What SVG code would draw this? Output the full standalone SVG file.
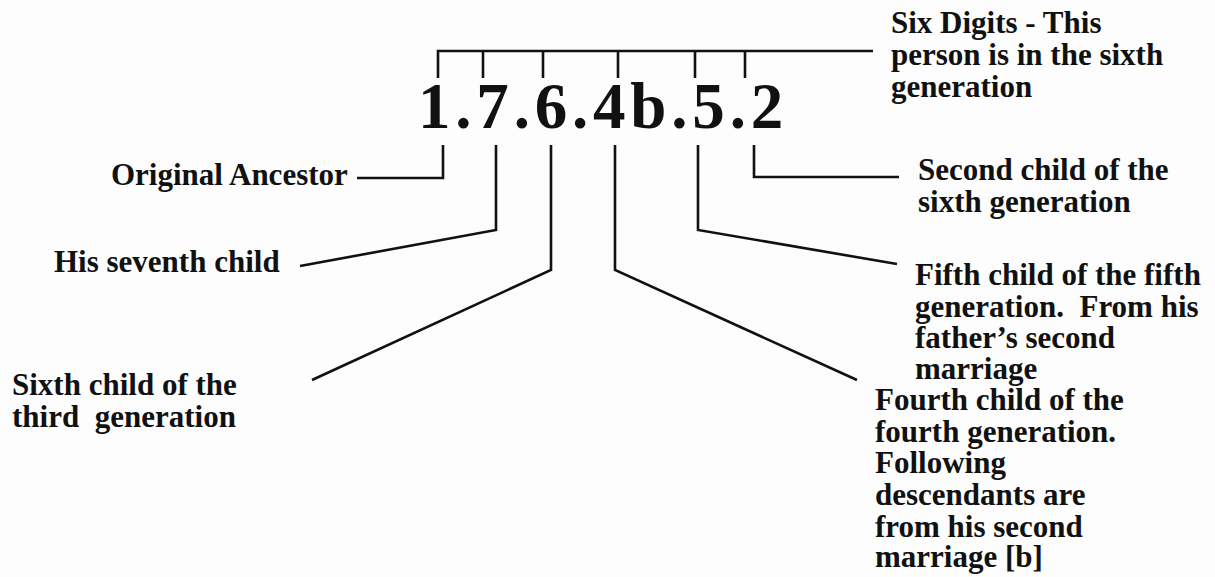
<svg xmlns="http://www.w3.org/2000/svg" width="1215" height="577" viewBox="0 0 1215 577">
<style>
.t{font-family:"Liberation Serif","Times New Roman",serif;font-weight:bold;font-size:31px;fill:#111;white-space:pre}
.num{font-family:"Liberation Serif","Times New Roman",serif;font-weight:bold;font-size:65px;fill:#111;letter-spacing:4.8px}
.c{fill:none;stroke:#111;stroke-width:2.6;stroke-linejoin:miter;stroke-linecap:butt}
</style>
<rect width="1215" height="577" fill="#fdfdfd"/>
<g id="number"><text class="num" x="418" y="128">1.7.6.4b.5.2</text></g>
<g id="connectors">
<path class="c" d="M873,51 H438 V78"/>
<path class="c" d="M483,51 V78"/>
<path class="c" d="M543,51 V78"/>
<path class="c" d="M618,51 V78"/>
<path class="c" d="M695,51 V78"/>
<path class="c" d="M745,51 V78"/>
<path class="c" d="M443,145 V178 H357"/>
<path class="c" d="M496,145 V230 L300,266"/>
<path class="c" d="M551,145 V270 L312,380"/>
<path class="c" d="M615,145 V270 L857,380"/>
<path class="c" d="M698,145 V230 L897,264"/>
<path class="c" d="M754,145 V177 H899"/>
</g>
<g id="six-digits"><text class="t" x="891" y="33">Six Digits - This</text><text class="t" x="891" y="65">person is in the sixth</text><text class="t" x="891" y="97">generation</text></g>
<g id="original-ancestor"><text class="t" x="111" y="185">Original Ancestor</text></g>
<g id="seventh-child"><text class="t" x="54" y="272">His seventh child</text></g>
<g id="sixth-child"><text class="t" x="12" y="395">Sixth child of the</text><text class="t" x="12" y="427">third  generation</text></g>
<g id="second-child"><text class="t" x="918" y="180">Second child of the</text><text class="t" x="918" y="212">sixth generation</text></g>
<g id="fifth-child"><text class="t" x="915" y="285">Fifth child of the fifth</text><text class="t" x="915" y="317">generation.  From his</text><text class="t" x="915" y="348">father’s second</text><text class="t" x="915" y="379">marriage</text></g>
<g id="fourth-child"><text class="t" x="875" y="410">Fourth child of the</text><text class="t" x="875" y="442">fourth generation.</text><text class="t" x="875" y="473">Following</text><text class="t" x="875" y="505">descendants are</text><text class="t" x="875" y="537">from his second</text><text class="t" x="875" y="567">marriage [b]</text></g>
</svg>
